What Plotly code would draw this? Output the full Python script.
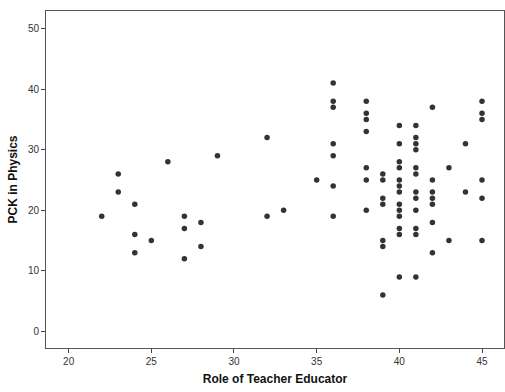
import plotly.graph_objects as go

# Role of Teacher Educator (x) and PCK in Physics (y)
role_x = (
    [22] + [23]*2 + [24]*3 + [25] + [26] + [27]*3 + [28]*2 + [29] + [32]*2 + [33] + [35]
    + [36]*7 + [38]*7 + [39]*7 + [40]*13 + [41]*12 + [42]*7 + [43]*2 + [44]*2 + [45]*6
)
pck_y = (
    [19]
    + [26, 23]
    + [21, 16, 13]
    + [15]
    + [28]
    + [19, 17, 12]
    + [18, 14]
    + [29]
    + [32, 19]
    + [20]
    + [25]
    + [41, 38, 37, 31, 29, 24, 19]
    + [38, 36, 35, 33, 27, 25, 20]
    + [26, 25, 22, 21, 15, 14, 6]
    + [34, 31, 28, 27, 25, 24, 23, 21, 20, 19, 17, 16, 9]
    + [34, 32, 31, 30, 27, 26, 23, 22, 20, 17, 16, 9]
    + [37, 25, 23, 22, 21, 18, 13]
    + [27, 15]
    + [31, 23]
    + [38, 36, 35, 25, 22, 15]
)

x_ticks = [20, 25, 30, 35, 40, 45]
y_ticks = [0, 10, 20, 30, 40, 50]

fig = go.Figure(go.Scatter(
    x=role_x, y=pck_y, mode="markers",
    marker=dict(size=5.5, color="#333333", line=dict(width=0)),
    showlegend=False,
))

axis_common = dict(
    showgrid=False, zeroline=False, showline=True, linecolor="#555555",
    linewidth=1, mirror=True, ticks="outside", ticklen=4, tickcolor="#444444",
    tickfont=dict(family="Liberation Sans, Arial", size=10, color="#333333"),
)

fig.update_layout(
    width=505, height=392,
    margin=dict(l=46, r=1, t=11, b=44),
    paper_bgcolor="white", plot_bgcolor="white",
    xaxis=dict(
        range=[18.63, 46.33], tickvals=x_ticks,
        title=dict(text="<b>Role of Teacher Educator</b>", standoff=8,
                   font=dict(family="Liberation Sans, Arial", size=12, color="#111111")),
        **axis_common,
    ),
    yaxis=dict(
        range=[-2.74, 52.9], tickvals=y_ticks,
        title=dict(text="<b>PCK in Physics</b>", standoff=7,
                   font=dict(family="Liberation Sans, Arial", size=12, color="#111111")),
        **axis_common,
    ),
)

fig.write_html("out.html")
